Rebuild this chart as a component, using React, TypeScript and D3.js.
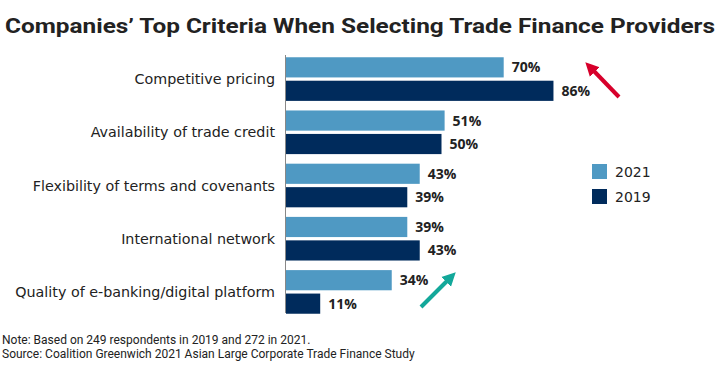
import React from 'react';
import * as d3 from 'd3';

const categories = [
  'Competitive pricing',
  'Availability of trade credit',
  'Flexibility of terms and covenants',
  'International network',
  'Quality of e-banking/digital platform',
];
const series = ['2021', '2019'];
const values2021 = [70, 51, 43, 39, 34];
const values2019 = [86, 50, 39, 43, 11];
const colors = ['#4f99c3', '#002b5c'];

const W = 720;
const H = 369;

export default function App() {
  const x = d3.scaleLinear().domain([0, 100]).range([286, 597]);
  const y0 = d3.scaleBand().domain(categories).range([53, 318]).paddingInner(0.18).paddingOuter(0.08);
  const y1 = d3.scaleBand().domain(series).range([0, y0.bandwidth()]).paddingInner(0.14);
  const vals = [values2021, values2019];

  return (
    <svg width={W} height={H} style={{ display: 'block', position: 'absolute', left: 0, top: 0, background: '#fff' }}>
      <defs>
        <marker id="ah-red" viewBox="0 0 10 10" refX="4" refY="5" markerWidth="3.4" markerHeight="3.6" orient="auto">
          <path d="M0,0 L10,5 L0,10 z" fill="#d7002b" />
        </marker>
        <marker id="ah-teal" viewBox="0 0 10 10" refX="4" refY="5" markerWidth="3.4" markerHeight="3.6" orient="auto">
          <path d="M0,0 L10,5 L0,10 z" fill="#13a89a" />
        </marker>
      </defs>
      <text x={5} y={33} fontFamily="Roboto, sans-serif" fontWeight="bold" fontSize={21} fill="#222" textLength={710} lengthAdjust="spacingAndGlyphs">
        Companies’ Top Criteria When Selecting Trade Finance Providers
      </text>

      {categories.map((c, i) => (
        <g key={c}>
          <text x={275} y={(y0(c) ?? 0) + y0.bandwidth() / 2 + 5} textAnchor="end" fontFamily="'DejaVu Sans', sans-serif" fontSize={14.3} fill="#222">
            {c}
          </text>
          {series.map((s, j) => {
            const v = vals[j][i];
            const yy = (y0(c) ?? 0) + (y1(s) ?? 0);
            return (
              <g key={s}>
                <rect x={x(0)} y={yy} width={x(v) - x(0)} height={y1.bandwidth()} fill={colors[j]} />
                <text x={x(v) + 8} y={yy + y1.bandwidth() / 2 + 5} fontFamily="'Open Sans', sans-serif" fontWeight="bold" fontSize={14} fill="#222">
                  {v}%
                </text>
              </g>
            );
          })}
        </g>
      ))}
      <line x1={285.5} x2={285.5} y1={55} y2={313} stroke="#888" strokeWidth={1} />

      {series.map((s, j) => (
        <g key={s} transform={`translate(592,${164 + j * 25})`}>
          <rect width={15} height={15} fill={colors[j]} />
          <text x={23} y={12.5} fontFamily="'DejaVu Sans', sans-serif" fontSize={14} fill="#222">{s}</text>
        </g>
      ))}

      <line x1={619} y1={97} x2={591} y2={68} stroke="#d7002b" strokeWidth={4} markerEnd="url(#ah-red)" />
      <line x1={421} y1={307} x2={450} y2={278} stroke="#13a89a" strokeWidth={4} markerEnd="url(#ah-teal)" />

      <text x={2} y={344} fontFamily="Roboto, sans-serif" fontSize={12} fill="#222">
        Note: Based on 249 respondents in 2019 and 272 in 2021.
      </text>
      <text x={2} y={358} fontFamily="Roboto, sans-serif" fontSize={12} fill="#222">
        Source: Coalition Greenwich 2021 Asian Large Corporate Trade Finance Study
      </text>
    </svg>
  );
}
